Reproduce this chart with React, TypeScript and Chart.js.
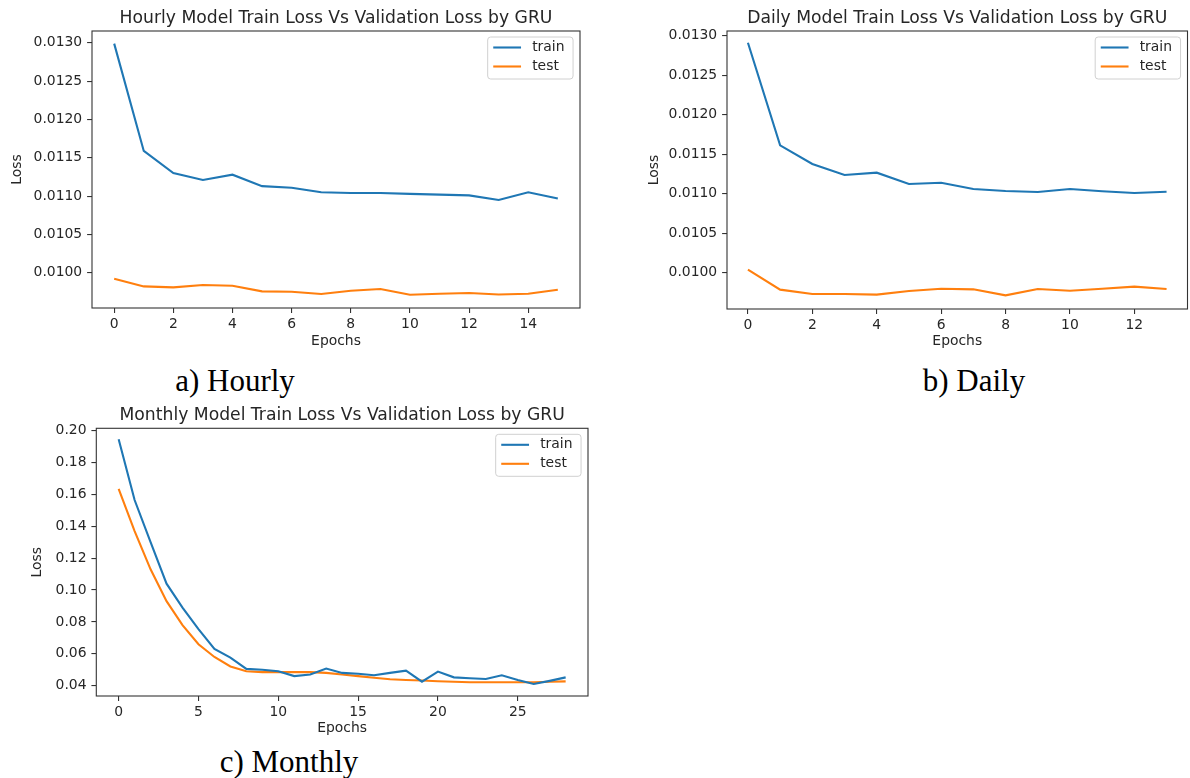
import React, { useEffect, useRef } from 'react';
import { Chart, registerables } from 'chart.js';

Chart.register(...registerables);

// ---------------- DATA ----------------
const hourlyEpochs = [0, 1, 2, 3, 4, 5, 6, 7, 8, 9, 10, 11, 12, 13, 14, 15];
const hourlyTrain = [0.01299, 0.01159, 0.0113, 0.01121, 0.01128, 0.01113, 0.01111, 0.01105, 0.01104, 0.01104, 0.01103, 0.01102, 0.01101, 0.01095, 0.01105, 0.01097];
const hourlyTest = [0.009922, 0.009822, 0.009809, 0.00984, 0.00983, 0.009757, 0.009752, 0.009722, 0.009765, 0.009787, 0.009713, 0.009726, 0.009735, 0.009717, 0.009726, 0.009778];
const hourlyXTicks = [0, 2, 4, 6, 8, 10, 12, 14];
const hourlyYTicks = [0.01, 0.0105, 0.011, 0.0115, 0.012, 0.0125, 0.013];

const dailyEpochs = [0, 1, 2, 3, 4, 5, 6, 7, 8, 9, 10, 11, 12, 13];
const dailyTrain = [0.012911, 0.011612, 0.011376, 0.011236, 0.011266, 0.011122, 0.011139, 0.011059, 0.011034, 0.011021, 0.011059, 0.01103, 0.011008, 0.011025];
const dailyTest = [0.010038, 0.009785, 0.00973, 0.00973, 0.009722, 0.009768, 0.009797, 0.009789, 0.009713, 0.009793, 0.009772, 0.009797, 0.009823, 0.009793];
const dailyXTicks = [0, 2, 4, 6, 8, 10, 12];
const dailyYTicks = [0.01, 0.0105, 0.011, 0.0115, 0.012, 0.0125, 0.013];

const monthlyEpochs = [0, 1, 2, 3, 4, 5, 6, 7, 8, 9, 10, 11, 12, 13, 14, 15, 16, 17, 18, 19, 20, 21, 22, 23, 24, 25, 26, 27, 28];
const monthlyTrain = [0.1946, 0.1565, 0.13, 0.104, 0.089, 0.0755, 0.063, 0.0576, 0.0505, 0.05, 0.049, 0.046, 0.047, 0.0507, 0.048, 0.0475, 0.0465, 0.048, 0.0494, 0.0425, 0.0488, 0.0452, 0.0446, 0.0442, 0.0465, 0.0435, 0.041, 0.043, 0.0452];
const monthlyTest = [0.1635, 0.137, 0.113, 0.093, 0.078, 0.066, 0.058, 0.052, 0.049, 0.0485, 0.0485, 0.0485, 0.0485, 0.048, 0.047, 0.046, 0.045, 0.044, 0.0435, 0.0432, 0.0428, 0.0424, 0.0421, 0.0421, 0.0421, 0.0421, 0.0421, 0.0424, 0.0427];
const monthlyXTicks = [0, 5, 10, 15, 20, 25];
const monthlyYTicks = [0.04, 0.06, 0.08, 0.1, 0.12, 0.14, 0.16, 0.18, 0.2];

const seriesNames = ['train', 'test'];
const seriesColors = ['#1f77b4', '#ff7f0e'];

// ---------------- LAYOUT ----------------
const FONT = "'DejaVu Sans', sans-serif";
const TICK_SIZE = 13.9;
const TITLE_SIZE = 17.2;
const TEXT_COLOR = '#262626';
const SPINE_COLOR = '#333333';

type Panel = {
  title: string;
  caption: string;
  epochs: number[];
  train: number[];
  test: number[];
  xTicks: number[];
  yTicks: number[];
  decimals: number;
  xMin: number; xMax: number; yMin: number; yMax: number;
  canvas: { left: number; top: number; width: number; height: number };
  plot: { l: number; r: number; t: number; b: number };
  yTitleX: number;
  xTitleY: number;
  captionX: number;
  captionTop: number;
};

const panels: Panel[] = [
  {
    title: 'Hourly Model Train Loss Vs Validation Loss by GRU',
    caption: 'a) Hourly',
    epochs: hourlyEpochs, train: hourlyTrain, test: hourlyTest,
    xTicks: hourlyXTicks, yTicks: hourlyYTicks, decimals: 4,
    xMin: -0.75, xMax: 15.75, yMin: 0.00954, yMax: 0.013155,
    canvas: { left: 0, top: 0, width: 595, height: 360 },
    plot: { l: 92, r: 580, t: 31, b: 308 },
    yTitleX: 17.3, xTitleY: 341,
    captionX: 235, captionTop: 365,
  },
  {
    title: 'Daily Model Train Loss Vs Validation Loss by GRU',
    caption: 'b) Daily',
    epochs: dailyEpochs, train: dailyTrain, test: dailyTest,
    xTicks: dailyXTicks, yTicks: dailyYTicks, decimals: 4,
    xMin: -0.65, xMax: 13.65, yMin: 0.00954, yMax: 0.01306,
    canvas: { left: 600, top: 0, width: 590, height: 360 },
    plot: { l: 727, r: 1187.5, t: 31, b: 309 },
    yTitleX: 654.8, xTitleY: 341.7,
    captionX: 974, captionTop: 365,
  },
  {
    title: 'Monthly Model Train Loss Vs Validation Loss by GRU',
    caption: 'c) Monthly',
    epochs: monthlyEpochs, train: monthlyTrain, test: monthlyTest,
    xTicks: monthlyXTicks, yTicks: monthlyYTicks, decimals: 2,
    xMin: -1.4, xMax: 29.4, yMin: 0.0335, yMax: 0.2015,
    canvas: { left: 0, top: 400, width: 600, height: 340 },
    plot: { l: 96.3, r: 588, t: 428.3, b: 696 },
    yTitleX: 37, xTitleY: 728.3,
    captionX: 289, captionTop: 746,
  },
];

const decorPlugin = {
  id: 'mplDecor',
  afterDatasetsDraw(chart: any) {
    const opts = chart.options.plugins.mplDecor;
    const { ctx, chartArea } = chart;
    const { left, right, top, bottom } = chartArea;
    ctx.save();
    // spines
    ctx.strokeStyle = SPINE_COLOR;
    ctx.lineWidth = 1.1;
    ctx.strokeRect(left, top, right - left, bottom - top);
    // title
    ctx.fillStyle = TEXT_COLOR;
    ctx.font = `${TITLE_SIZE}px ${FONT}`;
    ctx.textAlign = 'center';
    ctx.textBaseline = 'alphabetic';
    ctx.fillText(opts.title, (left + right) / 2, top - 8.3);
    // legend
    ctx.font = `${TICK_SIZE}px ${FONT}`;
    const datasets = chart.data.datasets;
    let textW = 0;
    datasets.forEach((d: any) => { textW = Math.max(textW, ctx.measureText(d.label).width); });
    const fs = TICK_SIZE;
    const boxW = 0.4 * fs + 2.0 * fs + 0.8 * fs + textW + 0.4 * fs + 3;
    const boxH = 42;
    const boxR = right - 0.5 * fs;
    const boxL = boxR - boxW;
    const boxT = top + 6;
    const rad = 3;
    ctx.beginPath();
    ctx.moveTo(boxL + rad, boxT);
    ctx.lineTo(boxR - rad, boxT);
    ctx.quadraticCurveTo(boxR, boxT, boxR, boxT + rad);
    ctx.lineTo(boxR, boxT + boxH - rad);
    ctx.quadraticCurveTo(boxR, boxT + boxH, boxR - rad, boxT + boxH);
    ctx.lineTo(boxL + rad, boxT + boxH);
    ctx.quadraticCurveTo(boxL, boxT + boxH, boxL, boxT + boxH - rad);
    ctx.lineTo(boxL, boxT + rad);
    ctx.quadraticCurveTo(boxL, boxT, boxL + rad, boxT);
    ctx.closePath();
    ctx.fillStyle = 'rgba(255,255,255,0.8)';
    ctx.fill();
    ctx.strokeStyle = '#d0d0d0';
    ctx.lineWidth = 1;
    ctx.stroke();
    datasets.forEach((d: any, i: number) => {
      const y = boxT + 10.5 + i * 19;
      const x1 = boxL + 0.4 * fs;
      const x2 = x1 + 2.0 * fs;
      ctx.strokeStyle = d.borderColor;
      ctx.lineWidth = 2.1;
      ctx.beginPath();
      ctx.moveTo(x1, y);
      ctx.lineTo(x2, y);
      ctx.stroke();
      ctx.fillStyle = TEXT_COLOR;
      ctx.textAlign = 'left';
      ctx.textBaseline = 'middle';
      ctx.fillText(d.label, x2 + 0.8 * fs, y);
    });
    ctx.restore();
  },
};

function PanelChart({ p }: { p: Panel }) {
  const ref = useRef<HTMLCanvasElement | null>(null);
  useEffect(() => {
    const canvas = ref.current;
    if (!canvas) return;
    const lh = TICK_SIZE * 1.2;
    const c = p.canvas;
    const padLeft = p.yTitleX - c.left - lh / 2;
    const yAxisW = p.plot.l - c.left - padLeft;
    const padRight = c.left + c.width - p.plot.r;
    const padTop = p.plot.t - c.top;
    const xAxisH = c.top + c.height - p.plot.b;
    const xTitlePadBottom = c.top + c.height - p.xTitleY - lh / 2;

    const tickFont = { family: FONT, size: TICK_SIZE, lineHeight: 1.2 };
    const gridCfg = {
      display: true,
      drawOnChartArea: false,
      drawTicks: true,
      tickLength: 4.9,
      tickWidth: 1.1,
      tickColor: SPINE_COLOR,
      color: SPINE_COLOR,
      lineWidth: 1.1,
    };

    const chart = new Chart(canvas, {
      type: 'line',
      data: {
        datasets: [
          {
            label: seriesNames[0],
            data: p.epochs.map((e, i) => ({ x: e, y: p.train[i] })),
            borderColor: seriesColors[0],
            backgroundColor: seriesColors[0],
            borderWidth: 2.1,
            pointRadius: 0,
            tension: 0,
            fill: false,
          },
          {
            label: seriesNames[1],
            data: p.epochs.map((e, i) => ({ x: e, y: p.test[i] })),
            borderColor: seriesColors[1],
            backgroundColor: seriesColors[1],
            borderWidth: 2.1,
            pointRadius: 0,
            tension: 0,
            fill: false,
          },
        ],
      },
      options: {
        responsive: false,
        animation: false,
        events: [],
        devicePixelRatio: 1,
        layout: {
          autoPadding: false,
          padding: { left: padLeft, right: padRight, top: padTop, bottom: 0 },
        },
        plugins: {
          legend: { display: false },
          tooltip: { enabled: false },
          title: { display: false },
          mplDecor: { title: p.title },
        } as any,
        scales: {
          x: {
            type: 'linear',
            position: 'bottom',
            min: p.xMin,
            max: p.xMax,
            border: { display: false },
            grid: gridCfg,
            ticks: {
              font: tickFont,
              color: TEXT_COLOR,
              padding: 3.2,
              autoSkip: false,
              maxRotation: 0,
              callback: (v: any) => String(Math.round(Number(v))),
            },
            title: {
              display: true,
              text: 'Epochs',
              color: TEXT_COLOR,
              font: tickFont,
              padding: { top: 0, bottom: xTitlePadBottom },
            },
            afterBuildTicks: (s: any) => { s.ticks = p.xTicks.map((v) => ({ value: v })); },
            afterFit: (s: any) => { s.height = xAxisH; },
          },
          y: {
            type: 'linear',
            position: 'left',
            min: p.yMin,
            max: p.yMax,
            border: { display: false },
            grid: gridCfg,
            ticks: {
              font: tickFont,
              color: TEXT_COLOR,
              padding: 4.9,
              autoSkip: false,
              callback: (v: any) => Number(v).toFixed(p.decimals),
            },
            title: {
              display: true,
              text: 'Loss',
              color: TEXT_COLOR,
              font: tickFont,
              padding: { top: 0, bottom: 0 },
            },
            afterBuildTicks: (s: any) => { s.ticks = p.yTicks.map((v) => ({ value: v })); },
            afterFit: (s: any) => { s.width = yAxisW; },
          },
        },
      },
      plugins: [decorPlugin],
    } as any);
    return () => chart.destroy();
  }, [p]);

  return (
    <canvas
      ref={ref}
      width={p.canvas.width}
      height={p.canvas.height}
      style={{
        position: 'absolute',
        left: p.canvas.left,
        top: p.canvas.top,
        width: p.canvas.width,
        height: p.canvas.height,
      }}
    />
  );
}

export default function App() {
  return (
    <div
      style={{
        position: 'absolute',
        left: 0,
        top: 0,
        width: 1190,
        height: 778,
        background: '#ffffff',
        overflow: 'hidden',
      }}
    >
      {panels.map((p, i) => (
        <PanelChart key={i} p={p} />
      ))}
      {panels.map((p, i) => (
        <div
          key={'c' + i}
          style={{
            position: 'absolute',
            left: p.captionX - 200,
            top: p.captionTop,
            width: 400,
            textAlign: 'center',
            fontFamily: "'Liberation Serif', 'Times New Roman', serif",
            fontSize: 31,
            lineHeight: '31px',
            color: '#000',
            whiteSpace: 'nowrap',
          }}
        >
          {p.caption}
        </div>
      ))}
    </div>
  );
}
